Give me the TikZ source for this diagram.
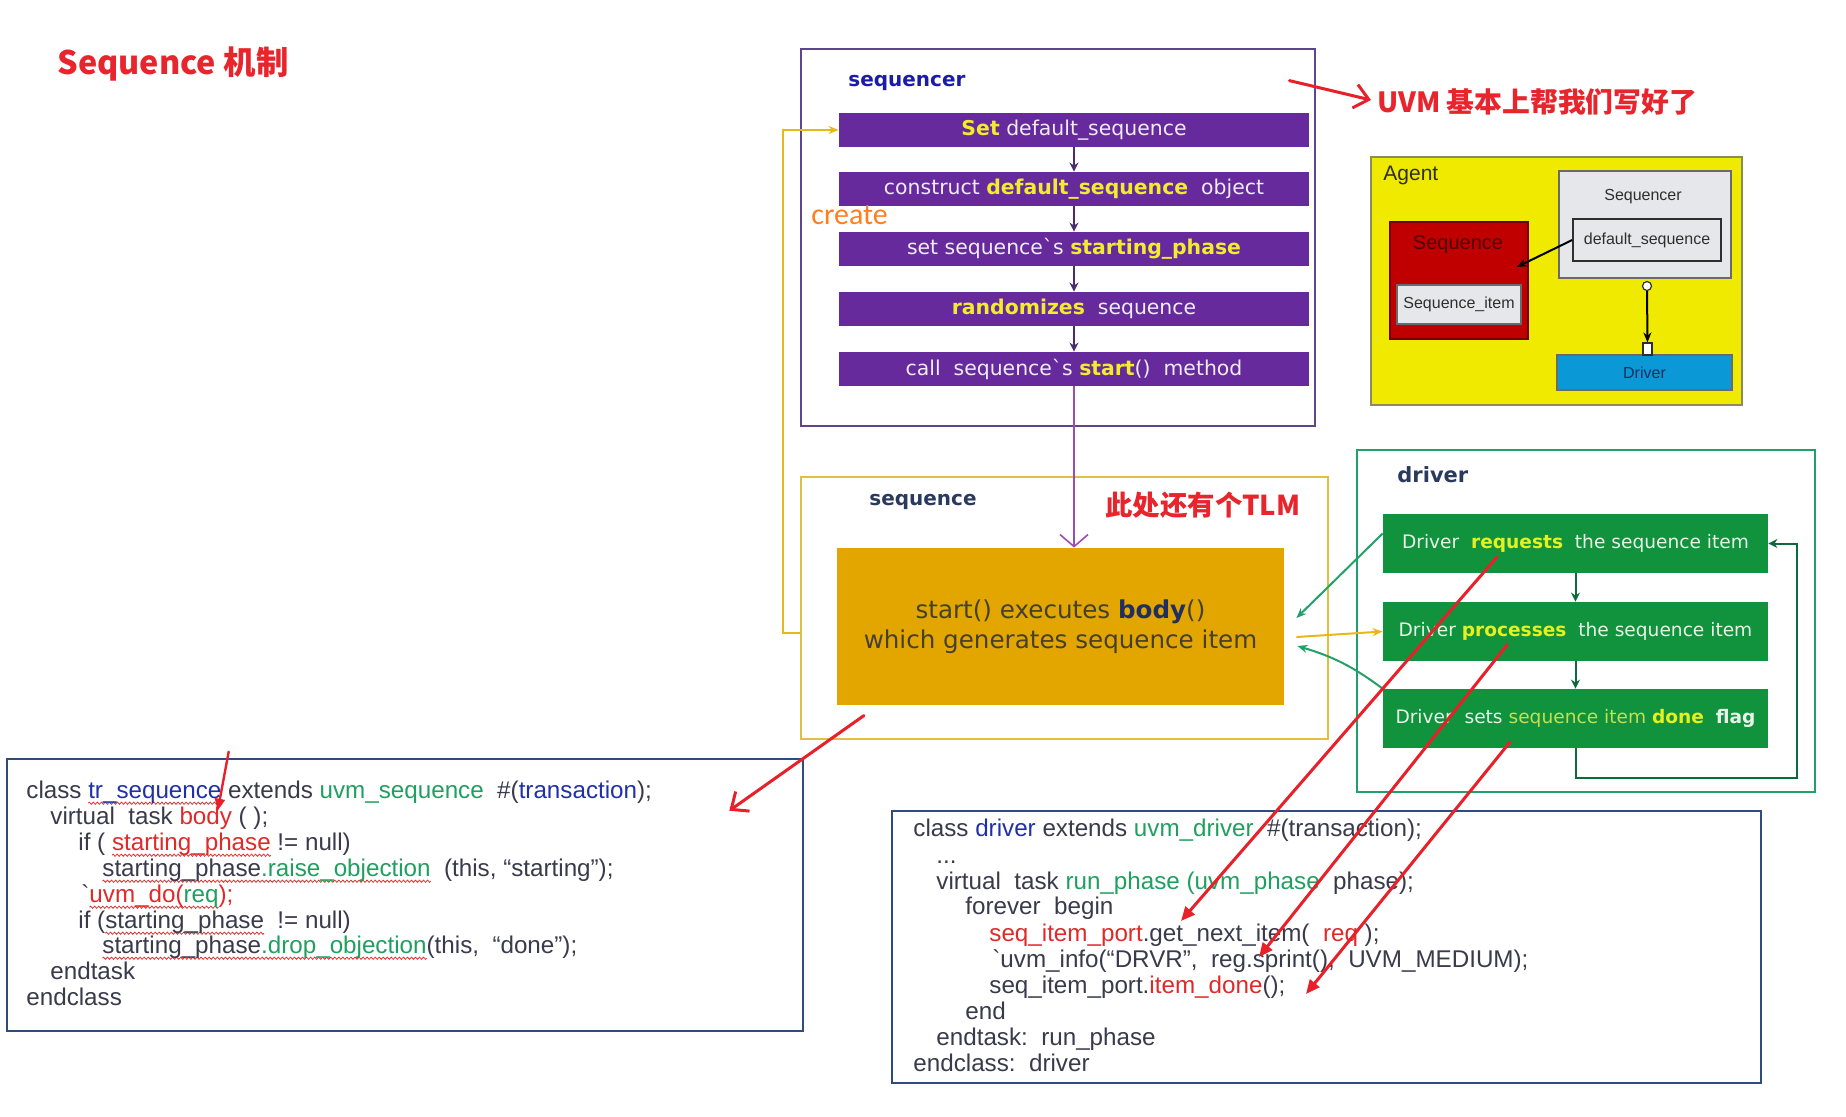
\documentclass[tikz,border=0pt]{standalone}
\usepackage{fontspec}
\setmainfont{DejaVu Sans}
\newfontfamily\cjk{Noto Sans CJK SC}
\newfontfamily\codefont{Liberation Sans}
\newfontfamily\calfont{Carlito}
\usetikzlibrary{arrows.meta}

\definecolor{titlered}{HTML}{E8242C}
\definecolor{barpurple}{HTML}{662A9C}
\definecolor{framepurple}{HTML}{5E4590}
\definecolor{bartext}{HTML}{F0ECF6}
\definecolor{baryellow}{HTML}{F2EC2E}
\definecolor{pdark}{HTML}{4A2D6E}
\definecolor{violetline}{HTML}{9B4DB5}
\definecolor{goldline}{HTML}{E8B818}
\definecolor{goldframe}{HTML}{E0C040}
\definecolor{bodyorange}{HTML}{E3A600}
\definecolor{bodytext}{HTML}{45402E}
\definecolor{bodynavy}{HTML}{1F2F60}
\definecolor{bargreen}{HTML}{11923C}
\definecolor{gtext}{HTML}{E8F4EA}
\definecolor{gyellow}{HTML}{E6F020}
\definecolor{ygreen}{HTML}{C4E050}
\definecolor{gframe}{HTML}{22A06A}
\definecolor{gdark}{HTML}{0E6A3C}
\definecolor{codeframe}{HTML}{2E4C80}
\definecolor{codegray}{HTML}{3A3A4C}
\definecolor{codeblue}{HTML}{2030A8}
\definecolor{codegreen}{HTML}{20A060}
\definecolor{codered}{HTML}{E02A2A}
\definecolor{wavered}{HTML}{E03030}
\definecolor{hred}{HTML}{E8202A}
\definecolor{agentyellow}{HTML}{EFEA00}
\definecolor{agentedge}{HTML}{8C8C5A}
\definecolor{agray}{HTML}{6A6A6A}
\definecolor{afill}{HTML}{E5E7EB}
\definecolor{atext}{HTML}{2E2E2E}
\definecolor{aseqred}{HTML}{C00000}
\definecolor{adrvblue}{HTML}{0A98D6}
\definecolor{createorange}{HTML}{FF7E1F}
\definecolor{lblblue}{HTML}{1B1BA8}
\definecolor{lblslate}{HTML}{2A3A5E}

\newcommand\yb[1]{{\bfseries\color{baryellow}#1}}
\newcommand\gy[1]{{\bfseries\color{gyellow}#1}}
% red wavy underline
\newsavebox\wavebox
\newsavebox\wavetext
\sbox\wavebox{\tikz{\useasboundingbox (0,0) rectangle (2pt,0pt);
  \draw[wavered, line width=0.4pt] (0,0) sin (0.5pt,0.55pt) cos (1pt,0) sin (1.5pt,-0.55pt) cos (2pt,0);}}
\newcommand\rwave[1]{\sbox\wavetext{#1}\rlap{\raisebox{-2.6pt}[0pt][0pt]{\hbox to\wd\wavetext{\xleaders\copy\wavebox\hfil}}}\usebox\wavetext}

\begin{document}
\begin{tikzpicture}[x=0.5pt,y=-0.5pt]
\tikzstyle{frame}=[draw, line width=1.2pt, inner sep=0pt]
\tikzstyle{pbar}=[fill=barpurple, inner sep=0pt, minimum width=235pt, minimum height=17pt, text=bartext, font=\fontsize{10.2}{12}\selectfont]
\tikzstyle{gbar}=[fill=bargreen, inner sep=0pt, minimum width=192.5pt, minimum height=29.5pt, text=gtext, font=\fontsize{9.3}{11}\selectfont]
\tikzstyle{lbl}=[anchor=west, inner sep=0pt, font=\bfseries\fontsize{10}{12}\selectfont]
\tikzstyle{code}=[anchor=west, inner sep=0pt, text height=9pt, text depth=3pt, text=codegray, font=\codefont\fontsize{12.1}{13}\selectfont]
\tikzstyle{hand}=[draw=hred, line width=1.5pt, line cap=round, line join=round]
\tikzstyle{abox}=[draw=agray, line width=0.8pt, inner sep=0pt, text=atext, font=\codefont\fontsize{8}{9}\selectfont]

\useasboundingbox (0,0) rectangle (1846,1116);
\fill[white] (0,0) rectangle (1846,1116);

% titles
\node[anchor=west, inner sep=0pt, text=titlered, font=\cjk\bfseries\fontsize{16.2}{18}\selectfont] (title) at (57,64) {Sequence 机制};
\node[anchor=west, inner sep=0pt, text=titlered, font=\cjk\bfseries\fontsize{13.9}{16}\selectfont] (uvm) at (1377,102) {UVM 基本上帮我们写好了};
\node[anchor=west, inner sep=0pt, text=titlered, font=\cjk\bfseries\fontsize{13.7}{16}\selectfont] (tlm) at (1105,505) {此处还有个TLM};

% sequencer
\node[frame, draw=framepurple, line width=1.4pt, minimum width=257pt, minimum height=188.5pt] (seqr) at (1058,237.5) {};
\node[lbl, text=lblblue] (seqrlbl) at (848,83) {sequencer};
\node[pbar] (s1) at (1074,130) {\yb{Set} default\_sequence};
\node[pbar] (s2) at (1074,189) {construct \yb{default\_sequence}\ \ object};
\node[pbar] (s3) at (1074,249) {set sequence\textasciigrave s \yb{starting\_phase}};
\node[pbar] (s4) at (1074,309) {\yb{randomizes}\ \ sequence};
\node[pbar] (s5) at (1074,369) {call\ \ sequence\textasciigrave s \yb{start}()\ \ method};
\node[anchor=west, inner sep=0pt, text=createorange, font=\calfont\fontsize{15}{17}\selectfont] (create) at (811,215) {create};
\draw[pdark, line width=1pt, -{Stealth[length=4.5pt,width=4.5pt]}] (s1) -- (s2);
\draw[pdark, line width=1pt, -{Stealth[length=4.5pt,width=4.5pt]}] (s2) -- (s3);
\draw[pdark, line width=1pt, -{Stealth[length=4.5pt,width=4.5pt]}] (s3) -- (s4);
\draw[pdark, line width=1pt, -{Stealth[length=4.5pt,width=4.5pt]}] (s4) -- (s5);

% sequence
\node[frame, draw=goldframe, line width=1pt, minimum width=263.5pt, minimum height=131pt] (seq) at (1064.5,607.5) {};
\node[lbl, text=lblslate] (seqlbl) at (869,502) {sequence};
\node[fill=bodyorange, inner sep=0pt, minimum width=223.5pt, minimum height=78.5pt, align=center, text=bodytext, font=\fontsize{12.3}{15}\selectfont] (body) at (1060.5,626.5) {start() executes {\bfseries\color{bodynavy}body}()\\which generates sequence item};
\draw[violetline, line width=0.8pt, -{Straight Barb[length=6pt,width=14pt]}] (s5.south) -- (s5.south |- body.north);
\draw[goldline, line width=1.2pt, -{Stealth[length=5pt,width=4pt]}] ([yshift=-12.75pt]seq.west) -- ++(-17,0) |- (s1.west);

% driver
\node[frame, draw=gframe, minimum width=229pt, minimum height=171pt] (drv) at (1586,621) {};
\node[lbl, text=lblslate, font=\bfseries\fontsize{10.5}{12}\selectfont] (drvlbl) at (1397,475) {driver};
\node[gbar] (d1) at (1575.5,543.5) {Driver\ \ \gy{requests}\ \ the sequence item};
\node[gbar] (d2) at (1575.5,631.5) {Driver \gy{processes}\ \ the sequence item};
\node[gbar] (d3) at (1575.5,718.5) {Driver\ \ sets {\color{ygreen}sequence item} \gy{done}\ \ {\bfseries flag}};
\draw[gdark, line width=1pt, -{Stealth[length=4.5pt,width=4.5pt]}] (d1) -- (d2);
\draw[gdark, line width=1pt, -{Stealth[length=4.5pt,width=4.5pt]}] (d2) -- (d3);
\draw[gdark, line width=1pt, -{Stealth[length=4.5pt,width=4.5pt]}] (d3.south) -- ++(0,30) -| ([xshift=14.5pt]d1.east) -- (d1.east);
\draw[gframe, line width=1pt, -{Stealth[length=5pt,width=4pt]}] ([yshift=5pt]d1.west) -- ([shift={(6pt,4.25pt)}]body.east);
\draw[gframe, line width=1pt, -{Stealth[length=5pt,width=4pt]}] (d3.north west) to[bend right=10] ([shift={(6.5pt,-9.75pt)}]body.east);
\draw[goldline, line width=1pt, -{Stealth[length=5pt,width=4pt]}] ([shift={(6pt,-5.25pt)}]body.east) -- (d2.west);

% agent
\node[draw=agentedge, line width=1pt, fill=agentyellow, minimum width=185.5pt, minimum height=124pt] (agent) at (1556.5,281) {};
\node[anchor=west, inner sep=0pt, text=atext, font=\codefont\fontsize{10.5}{12}\selectfont] (agentlbl) at (1383,175) {Agent};
\node[abox, fill=afill, minimum width=86pt, minimum height=53.5pt] (aseqr) at (1645,224.5) {};
\node[inner sep=0pt, text=atext, font=\codefont\fontsize{8}{9}\selectfont] (aseqrlbl) at (1643,197) {Sequencer};
\node[abox, draw=atext, fill=afill, minimum width=74pt, minimum height=21pt] (adef) at (1647,240) {default\_sequence};
\node[abox, draw=aseqred!60!black, fill=aseqred, minimum width=69pt, minimum height=58.5pt] (aseq) at (1459,280.5) {};
\node[inner sep=0pt, text=aseqred!40!black, font=\codefont\fontsize{10}{12}\selectfont] (aseqlbl) at (1458,245) {Sequence};
\node[abox, fill=afill, minimum width=62pt, minimum height=19.5pt] (aitem) at (1459,304.5) {Sequence\_item};
\node[abox, fill=adrvblue, minimum width=87.5pt, minimum height=17.5pt, text=bodynavy] (adrv) at (1644.5,372.5) {Driver};
\node[circle, draw=atext, fill=white, line width=0.6pt, minimum size=4.5pt, inner sep=0pt] (aport) at (1647,286) {};
\node[draw=atext, fill=white, line width=0.6pt, minimum width=4.5pt, minimum height=6pt, inner sep=0pt] (aexp) at (1647.5,349) {};
\draw[black, line width=1pt, -{Stealth[length=5pt,width=4pt]}] (adef.west) -- ([shift={(-6pt,6.75pt)}]aseq.east);
\draw[black, line width=1pt, -{Stealth[length=5pt,width=4pt]}] (aport) -- (aexp);

% code of sequence
\node[frame, draw=codeframe, line width=1.3pt, minimum width=398pt, minimum height=136pt] (cbox1) at (405,895) {};
\node[code] (c1) at (26,792) {class \textcolor{codeblue}{\rwave{tr\_sequence}} extends \textcolor{codegreen}{uvm\_sequence}\ \ \#(\textcolor{codeblue}{transaction});};
\node[code] (c2) at (50,818) {virtual\ \ task \textcolor{codered}{body} ( );};
\node[code] (c3) at (78,844) {if ( \textcolor{codered}{\rwave{starting\_phase}} != null)};
\node[code] (c4) at (102,870) {\rwave{starting\_phase}\textcolor{codegreen}{\rwave{.raise\_objection}}\ \ (this, “starting”);};
\node[code] (c5) at (81,896) {\textasciigrave\textcolor{codered}{\rwave{uvm\_do(}}\textcolor{codegreen}{\rwave{req}}\textcolor{codered}{);}};
\node[code] (c6) at (78,922) {if (\rwave{starting\_phase}\ \ != null)};
\node[code] (c7) at (102,947) {\rwave{starting\_phase}\textcolor{codegreen}{\rwave{.drop\_objection}}(this,\ \ “done”);};
\node[code] (c8) at (50,973) {endtask};
\node[code] (c9) at (26,999) {endclass};

% code of driver
\node[frame, draw=codeframe, line width=1.3pt, minimum width=434.5pt, minimum height=136pt] (cbox2) at (1326.5,947) {};
\node[code] (r1) at (913,830) {class \textcolor{codeblue}{driver} extends \textcolor{codegreen}{uvm\_driver}\ \ \#(transaction);};
\node[code] (r2) at (936,857) {...};
\node[code] (r3) at (936,883) {virtual\ \ task \textcolor{codegreen}{run\_phase (uvm\_phase}\ \ phase);};
\node[code] (r4) at (965,908) {forever\ \ begin};
\node[code] (r5) at (989,935) {\textcolor{codered}{seq\_item\_port}.get\_next\_item(\ \ \textcolor{codered}{req} );};
\node[code] (r6) at (992,961) {\textasciigrave{}uvm\_info(“DRVR”,\ \ reg.sprint(),\ \ UVM\_MEDIUM);};
\node[code] (r7) at (989,987) {seq\_item\_port.\textcolor{codered}{item\_done}();};
\node[code] (r8) at (965,1013) {end};
\node[code] (r9) at (936,1039) {endtask:\ \ run\_phase};
\node[code] (r10) at (913,1065) {endclass:\ \ driver};

% hand drawn red arrows
\draw[hand, -{Straight Barb[length=7pt,width=12pt]}] ([shift={(-13.5pt,-16.5pt)}]seqr.north east) -- ([shift={(-3pt,1pt)}]uvm.west);
\draw[hand, -{Straight Barb[length=7pt,width=12pt]}] ([shift={(32pt,12pt)}]seq.south west) -- ([shift={(-37.5pt,-26.5pt)}]cbox1.north east);
\draw[hand, line width=1.2pt, -{Triangle[length=6pt,width=5pt]}] ([shift={(111.5pt,3pt)}]cbox1.north west) -- ([shift={(106pt,-26.5pt)}]cbox1.north west);
\draw[hand, -{Triangle[length=7pt,width=6pt]}] ([shift={(-39.25pt,-6.75pt)}]d1.center) -- ([shift={(96pt,7pt)}]r5.west);
\draw[hand, -{Triangle[length=7pt,width=6pt]}] ([shift={(-34.25pt,-6.75pt)}]d2.center) -- ([shift={(133.5pt,2pt)}]r6.west);
\draw[hand, -{Triangle[length=7pt,width=6pt]}] ([shift={(-32.75pt,-11.75pt)}]d3.center) -- ([shift={(158.5pt,-3.5pt)}]r7.west);
\end{tikzpicture}
\end{document}
